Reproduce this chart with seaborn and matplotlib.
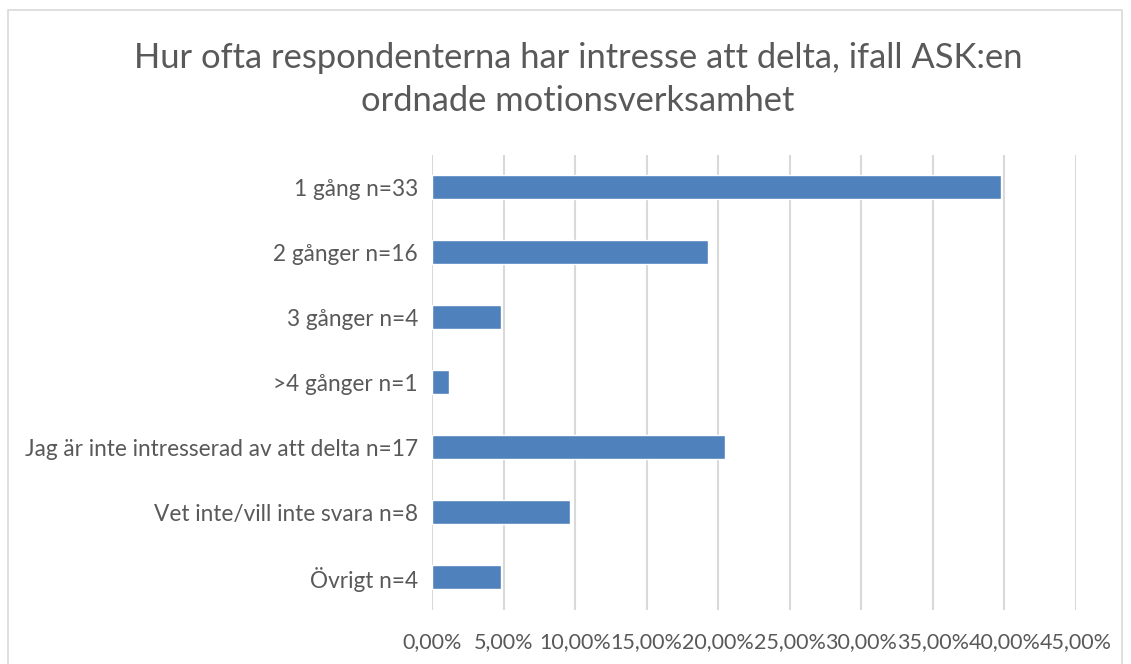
import matplotlib
matplotlib.use("Agg")
import matplotlib.pyplot as plt
import seaborn as sns
import pandas as pd
from matplotlib.patches import Rectangle
from matplotlib.ticker import FuncFormatter

categories = ["1 gång n=33", "2 gånger n=16", "3 gånger n=4", ">4 gånger n=1",
              "Jag är inte intresserad av att delta n=17", "Vet inte/vill inte svara n=8",
              "Övrigt n=4"]
values = [0.3976, 0.1928, 0.0482, 0.0120, 0.2048, 0.0964, 0.0482]
xticks = [0.0, 0.05, 0.10, 0.15, 0.20, 0.25, 0.30, 0.35, 0.40, 0.45]
title = "Hur ofta respondenterna har intresse att delta, ifall ASK:en\nordnade motionsverksamhet"

sns.set_style("white")
plt.rcParams['font.family'] = ['Lato', 'DejaVu Sans']

df = pd.DataFrame({"cat": categories, "val": values})
W, H = 1131, 664
fig = plt.figure(figsize=(W / 100, H / 100), dpi=100)
ax = fig.add_axes([432 / W, 1 - 609.5 / H, (1076 - 432) / W, (609.5 - 154.5) / H])

sns.barplot(data=df, x="val", y="cat", orient="h", color="#4f81bd", saturation=1,
            width=0.37, ax=ax, zorder=3)
ax.set_xlim(0, 0.45)
ax.set_xticks(xticks)
ax.xaxis.set_major_formatter(FuncFormatter(lambda v, p: f"{v*100:.2f}%".replace(".", ",")))
ax.grid(axis="x", color="#d9d9d9", linewidth=1.5, zorder=0)
ax.set_xlabel("")
ax.set_ylabel("")
for s in ax.spines.values():
    s.set_visible(False)
ax.tick_params(axis="both", length=0, labelcolor="#595959")
ax.tick_params(axis="y", labelsize=16.3, pad=10)
ax.tick_params(axis="x", labelsize=15.5, pad=16)

fig.text(578 / W, 1 - 79.5 / H, title, ha="center", va="center", fontsize=24.8,
         color="#595959", linespacing=1.4)

fig.patches.append(Rectangle((8 / W, -0.1), (1122 - 8) / W, 1 - 10 / H + 0.1,
                             transform=fig.transFigure, fill=False,
                             edgecolor="#d9d9d9", linewidth=1.2))

fig.savefig("out.png", dpi=100)
